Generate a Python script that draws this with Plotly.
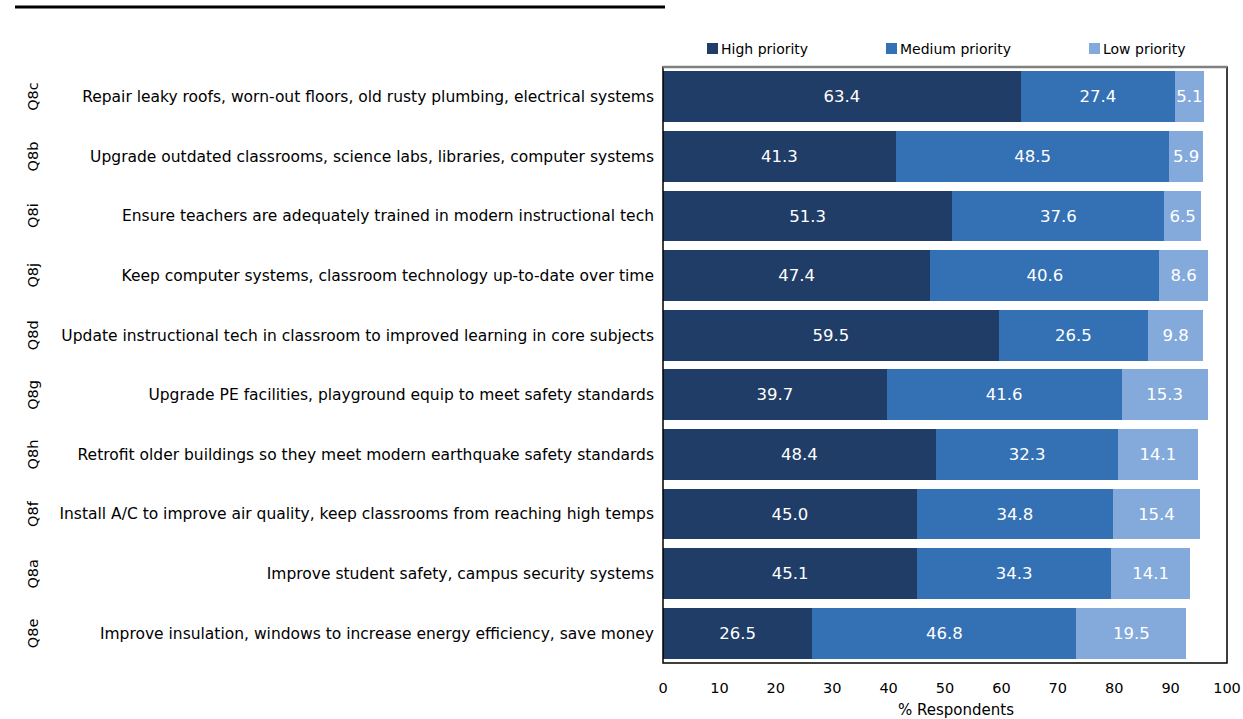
import plotly.graph_objects as go

codes = ["Q8c", "Q8b", "Q8i", "Q8j", "Q8d", "Q8g", "Q8h", "Q8f", "Q8a", "Q8e"]
items = [
    "Repair leaky roofs, worn-out floors, old rusty plumbing, electrical systems",
    "Upgrade outdated classrooms, science labs, libraries, computer systems",
    "Ensure teachers are adequately trained in modern instructional tech",
    "Keep computer systems, classroom technology up-to-date over time",
    "Update instructional tech in classroom to improved learning in core subjects",
    "Upgrade PE facilities, playground equip to meet safety standards",
    "Retrofit older buildings so they meet modern earthquake safety standards",
    "Install A/C to improve air quality, keep classrooms from reaching high temps",
    "Improve student safety, campus security systems",
    "Improve insulation, windows to increase energy efficiency, save money",
]
high = [63.4, 41.3, 51.3, 47.4, 59.5, 39.7, 48.4, 45.0, 45.1, 26.5]
medium = [27.4, 48.5, 37.6, 40.6, 26.5, 41.6, 32.3, 34.8, 34.3, 46.8]
low = [5.1, 5.9, 6.5, 8.6, 9.8, 15.3, 14.1, 15.4, 14.1, 19.5]
series_names = ["High priority", "Medium priority", "Low priority"]
colors = ["#1f3d66", "#3470b4", "#84aadc"]

W, H = 1243, 719
ML, MR, MT, MB = 663, 16, 67, 56
PW, PH = W - ML - MR, H - MT - MB
FONT = "DejaVu Sans"


def px_x(x):
    return (x - ML) / PW


def px_y(y):
    return 1 - (y - MT) / PH


fig = go.Figure()
for name, vals, col in zip(series_names, [high, medium, low], colors):
    fig.add_trace(go.Bar(
        y=items, x=vals, name=name, orientation="h",
        marker=dict(color=col, line=dict(width=0)),
        text=vals, texttemplate="%{x:.1f}",
        textposition="inside", insidetextanchor="middle",
        textangle=0, constraintext="none",
        textfont=dict(color="white", size=16.5, family=FONT),
        showlegend=False,
    ))

shapes = [
    # plot frame
    dict(type="rect", xref="paper", yref="paper", x0=0, x1=1, y0=0, y1=1,
         line=dict(color="black", width=1.5), layer="above"),
    dict(type="line", xref="paper", yref="paper", x0=0, x1=1, y0=1, y1=1,
         line=dict(color="#808080", width=2.5), layer="above"),
    # rule across the top
    dict(type="line", xref="paper", yref="paper", x0=px_x(15), x1=px_x(665),
         y0=px_y(7), y1=px_y(7), line=dict(color="black", width=3)),
]

annotations = []
# rotated item codes
for code, item in zip(codes, items):
    annotations.append(dict(
        xref="paper", yref="y", x=px_x(33), y=item, text=code,
        textangle=-90, showarrow=False, xanchor="center", yanchor="middle",
        font=dict(size=14.5, family=FONT, color="black"),
    ))

# legend entries
legend_x = [707, 886, 1089]
for name, col, lx in zip(series_names, colors, legend_x):
    shapes.append(dict(type="rect", xref="paper", yref="paper",
                       x0=px_x(lx), x1=px_x(lx + 11), y0=px_y(54), y1=px_y(43),
                       fillcolor=col, line=dict(width=0)))
    annotations.append(dict(
        xref="paper", yref="paper", x=px_x(lx + 12), y=px_y(48.5), text=name,
        showarrow=False, xanchor="left", yanchor="middle",
        font=dict(size=14, family=FONT, color="black"),
    ))

# axis title
annotations.append(dict(
    xref="paper", yref="paper", x=px_x(956), y=px_y(710), text="% Respondents",
    showarrow=False, xanchor="center", yanchor="middle",
    font=dict(size=15, family=FONT, color="black"),
))

fig.update_layout(
    width=W, height=H,
    margin=dict(l=ML, r=MR, t=MT, b=MB, pad=0, autoexpand=False),
    barmode="stack", bargap=0.145,
    plot_bgcolor="white", paper_bgcolor="white",
    font=dict(family=FONT, size=14, color="black"),
    shapes=shapes, annotations=annotations,
    xaxis=dict(
        range=[0, 100], tickvals=list(range(0, 101, 10)),
        showgrid=False, zeroline=False, showline=False, ticks="",
        tickfont=dict(size=14.5, family=FONT), ticklabelstandoff=14,
        automargin=False,
    ),
    yaxis=dict(
        autorange="reversed", showgrid=False, zeroline=False, showline=False,
        ticks="", tickfont=dict(size=15.5, family=FONT), ticklabelstandoff=8,
        automargin=False,
    ),
)

fig.write_html("out.html")
